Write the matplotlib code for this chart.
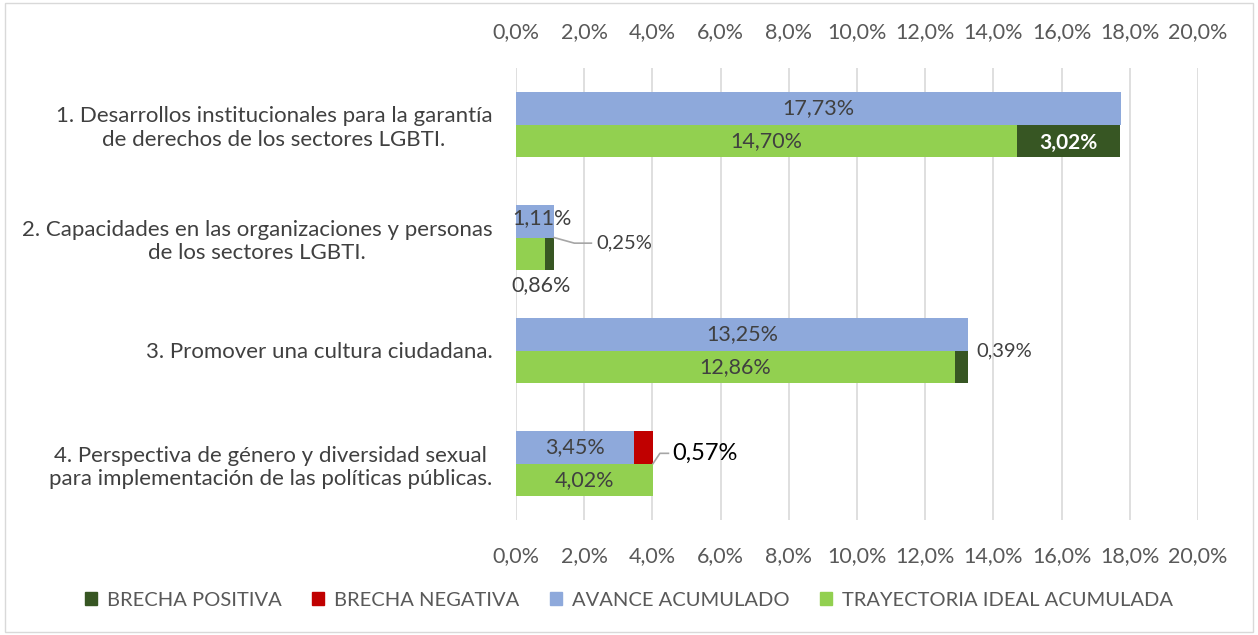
import matplotlib
matplotlib.use("Agg")
import matplotlib.pyplot as plt
from matplotlib.patches import Patch, Rectangle

categories = [
    "1. Desarrollos institucionales para la garantía\nde derechos de los sectores LGBTI.",
    "2. Capacidades en las organizaciones y personas\nde los sectores LGBTI.",
    "3. Promover una cultura ciudadana.",
    "4. Perspectiva de género y diversidad sexual\npara implementación de las políticas públicas.",
]
avance = [17.73, 1.11, 13.25, 3.45]
ideal = [14.70, 0.86, 12.86, 4.02]
brecha_pos = [3.02, 0.25, 0.39, 0.0]
brecha_neg = [0.0, 0.0, 0.0, 0.57]
xticks = [0, 2, 4, 6, 8, 10, 12, 14, 16, 18, 20]

C_BLUE = "#8EA9DB"
C_GREEN = "#92D050"
C_DKGREEN = "#375623"
C_RED = "#C00000"
C_TXT = "#404040"
C_TICK = "#595959"

plt.rcParams["font.family"] = ["Lato", "DejaVu Sans"]
FS = 15.5

fig = plt.figure(figsize=(12.58, 6.35), dpi=100)
fig.patches.append(Rectangle((0.004, 0.004), 0.992, 0.992, transform=fig.transFigure,
                             fill=False, edgecolor="#D9D9D9", lw=1))
ax = fig.add_axes([516 / 1258, 1 - 520 / 635, (1198 - 516) / 1258, (520 - 68) / 635])

h = 0.29
ypos = list(range(len(categories)))
yb = [y - h / 2 for y in ypos]
yg = [y + h / 2 for y in ypos]

ax.barh(yb, avance, height=h, color=C_BLUE, zorder=3)
ax.barh(yg, ideal, height=h, color=C_GREEN, zorder=3)
ax.barh(yg, brecha_pos, left=ideal, height=h, color=C_DKGREEN, zorder=3)
ax.barh(yb, brecha_neg, left=avance, height=h, color=C_RED, zorder=3)

ax.set_xlim(0, 20)
ax.set_ylim(3.5, -0.5)
ax.set_xticks(xticks)
ax.set_xticklabels([f"{v:.1f}%".replace(".", ",") for v in xticks])
ax.set_yticks(ypos)
ax.set_yticklabels(categories, multialignment="center", fontsize=16, color=C_TXT)
ax.tick_params(axis="y", length=0, pad=17)
ax.tick_params(axis="x", length=0, pad=19, labelsize=FS, colors=C_TICK,
               top=True, labeltop=True, bottom=True, labelbottom=True)
ax.grid(axis="x", color="#D9D9D9", lw=1.2, zorder=0)
for s in ax.spines.values():
    s.set_visible(False)

# data labels
for i in range(4):
    if i == 1:
        ax.text(avance[i] / 2 + 0.2, yb[i] - 0.03, f"{avance[i]:.2f}%".replace(".", ","),
                ha="center", va="center", fontsize=FS, color=C_TXT, zorder=5)
        ax.text(ideal[i] * 0.85, yg[i] + h / 2 + 0.04, f"{ideal[i]:.2f}%".replace(".", ","),
                ha="center", va="top", fontsize=FS, color=C_TXT, zorder=5)
    else:
        ax.text(avance[i] / 2, yb[i], f"{avance[i]:.2f}%".replace(".", ","),
                ha="center", va="center", fontsize=FS, color=C_TXT, zorder=5)
        ax.text(ideal[i] / 2, yg[i], f"{ideal[i]:.2f}%".replace(".", ","),
                ha="center", va="center", fontsize=FS, color=C_TXT, zorder=5)

# brecha labels
ax.text(ideal[0] + brecha_pos[0] / 2, yg[0] + 0.02, f"{brecha_pos[0]:.2f}%".replace(".", ","),
        ha="center", va="center", fontsize=FS - 0.5, color="white", fontweight="bold", zorder=5)

x1 = ideal[1] + brecha_pos[1]
ax.plot([x1, x1 + 0.6, x1 + 1.1], [ypos[1], ypos[1] + 0.05, ypos[1] + 0.05],
        color="#A6A6A6", lw=1.2, zorder=4, clip_on=False)
ax.text(x1 + 1.25, ypos[1] + 0.05, f"{brecha_pos[1]:.2f}%".replace(".", ","),
        ha="left", va="center", fontsize=FS - 1, color=C_TXT, zorder=5)

x2 = ideal[2] + brecha_pos[2]
ax.text(x2 + 0.25, ypos[2], f"{brecha_pos[2]:.2f}%".replace(".", ","),
        ha="left", va="center", fontsize=FS - 1, color=C_TXT, zorder=5)

x3 = avance[3] + brecha_neg[3]
ax.plot([x3, x3 + 0.2, x3 + 0.45], [ypos[3], ypos[3] - 0.09, ypos[3] - 0.09],
        color="#A6A6A6", lw=1.2, zorder=4)
ax.text(x3 + 0.55, ypos[3] - 0.09, f"{brecha_neg[3]:.2f}%".replace(".", ","),
        ha="left", va="center", fontsize=17, color="black", zorder=5)

handles = [Patch(color=C_DKGREEN), Patch(color=C_RED), Patch(color=C_BLUE), Patch(color=C_GREEN)]
labels = ["BRECHA POSITIVA", "BRECHA NEGATIVA", "AVANCE ACUMULADO", "TRAYECTORIA IDEAL ACUMULADA"]
leg = fig.legend(handles, labels, loc="center", bbox_to_anchor=(0.5, 1 - 600 / 635), ncol=4,
                 frameon=False, fontsize=14.5, handlelength=0.6, handleheight=0.6,
                 handletextpad=0.5, columnspacing=1.5)
for t in leg.get_texts():
    t.set_color(C_TICK)

fig.savefig("out.png", dpi=100)
